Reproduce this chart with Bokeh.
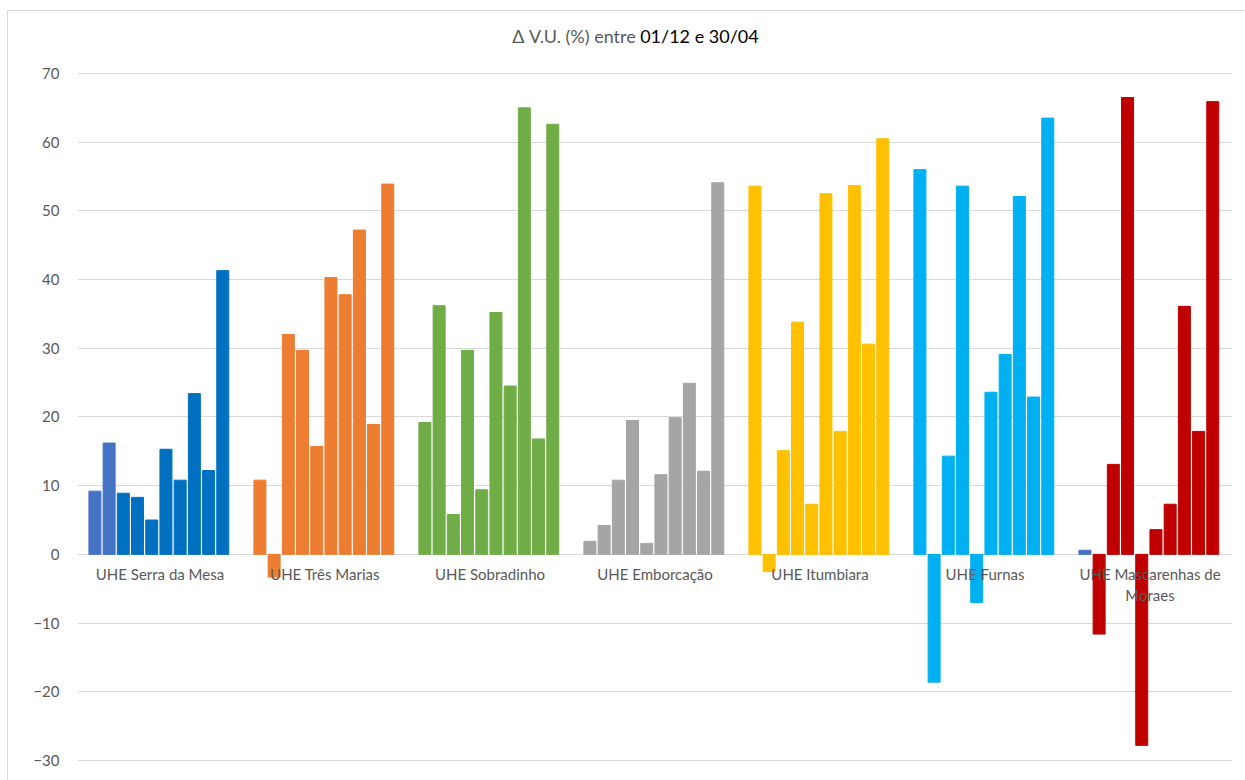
from bokeh.plotting import figure
from bokeh.models import Range1d, SingleIntervalTicker, Label, ColumnDataSource
from bokeh.core.properties import value
from bokeh.embed import file_html
from bokeh.resources import INLINE

categories = ["UHE Serra da Mesa", "UHE Três Marias", "UHE Sobradinho", "UHE Emborcação",
              "UHE Itumbiara", "UHE Furnas", "UHE Mascarenhas de\nMoraes"]

serra_da_mesa = [9.2, 16.2, 8.9, 8.3, 5.0, 15.3, 10.8, 23.4, 12.2, 41.3]
tres_marias = [10.8, -3.3, 32.0, 29.7, 15.7, 40.3, 37.8, 47.2, 18.9, 53.9]
sobradinho = [19.2, 36.2, 5.8, 29.7, 9.4, 35.2, 24.5, 65.0, 16.8, 62.6]
emborcacao = [1.9, 4.2, 10.8, 19.5, 1.6, 11.6, 19.9, 24.9, 12.1, 54.1]
itumbiara = [53.6, -2.5, 15.1, 33.8, 7.3, 52.5, 17.9, 53.7, 30.6, 60.5]
furnas = [56.0, -18.6, 14.3, 53.6, -7.0, 23.6, 29.1, 52.1, 22.9, 63.5]
mascarenhas = [0.6, -11.6, 13.1, 66.5, -27.8, 3.6, 7.3, 36.1, 17.9, 65.9]

group_colors = ["#0070C0", "#ED7D31", "#70AD47", "#A5A5A5", "#FFC000", "#00B0F0", "#C00000"]
highlight_color = "#4472C4"
highlighted = {(0, 0), (0, 1), (6, 0)}

series = [serra_da_mesa, tres_marias, sobradinho, emborcacao, itumbiara, furnas, mascarenhas]

step = 0.0861
bw = 0.0727
shift = -0.007
xs, tops, cols = [], [], []
for g, vals in enumerate(series):
    n = len(vals)
    for j, v in enumerate(vals):
        xs.append(g + 0.5 + shift + (j - (n - 1) / 2) * step)
        tops.append(v)
        cols.append(highlight_color if (g, j) in highlighted else group_colors[g])

src = ColumnDataSource(dict(x=xs, top=tops, color=cols))

p = figure(width=1237, height=770, output_backend="svg", toolbar_location=None,
           x_range=Range1d(0, 7), y_range=Range1d(-33.06, 79.02),
           x_axis_location=None, min_border_left=69, min_border_right=13,
           min_border_top=0, min_border_bottom=0)
p.margin = (10, 0, 0, 7)
p.styles = {"border-left": "1px solid #D9D9D9", "border-top": "1px solid #D9D9D9"}
p.outline_line_color = None
p.background_fill_color = "white"
p.border_fill_color = "white"

p.xgrid.visible = False
p.ygrid.grid_line_color = "#D9D9D9"
p.ygrid.grid_line_width = 1
p.yaxis.ticker = SingleIntervalTicker(interval=10)
p.yaxis.axis_line_color = None
p.yaxis.major_tick_line_color = None
p.yaxis.minor_tick_line_color = None
p.yaxis.major_label_text_font = "Lato"
p.yaxis.major_label_text_font_size = "15px"
p.yaxis.major_label_text_color = "#595959"
p.yaxis.major_label_standoff = 12

p.vbar(x="x", top="top", bottom=0, width=bw, color="color", source=src)

p.text(x=[g + 0.5 for g in range(len(categories))], y=[-1.6] * len(categories), text=categories,
       text_font=value("Lato"), text_font_size="15px", text_color="#595959",
       text_align="center", text_baseline="top", text_line_height=1.15)

title_grey = Label(x=3.383, y=75.4, text="Δ V.U. (%) entre", text_align="right",
                   text_baseline="middle", text_font="Lato", text_font_size="18px",
                   text_color="#595959")
title_black = Label(x=3.410, y=75.4, text="01/12 e 30/04", text_align="left",
                    text_baseline="middle", text_font="Lato", text_font_size="18px",
                    text_color="#000000")
p.add_layout(title_grey)
p.add_layout(title_black)

open("out.html", "w").write(file_html(p, INLINE))
